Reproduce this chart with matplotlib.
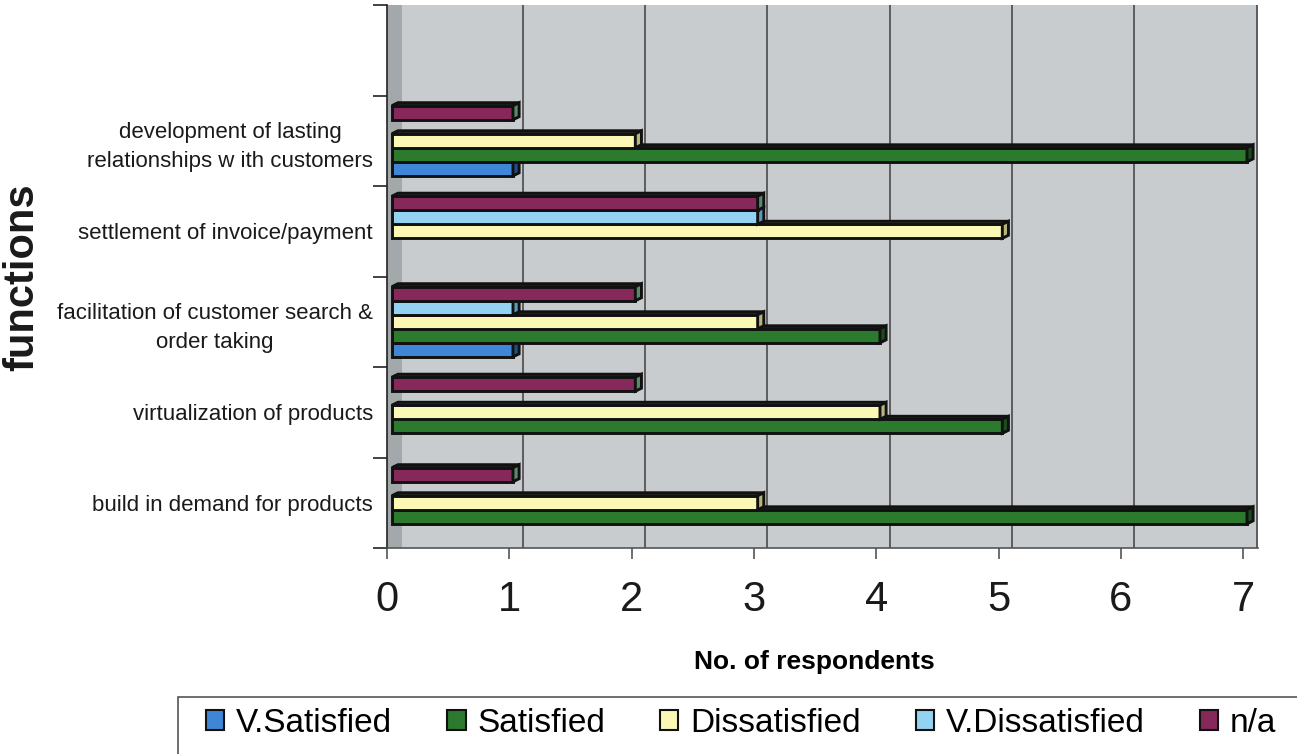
import matplotlib
matplotlib.use('Agg')
import matplotlib.pyplot as plt
from matplotlib.patches import Polygon, Rectangle

plt.rcParams['font.family'] = ['Liberation Sans', 'DejaVu Sans']

# ------------------------------------------------------------
# DATA (bottom category first)
# ------------------------------------------------------------
categories = [
    "build in demand for products",
    "virtualization of products",
    "facilitation of customer search &\norder taking",
    "settlement of invoice/payment",
    "development of lasting\nrelationships w ith customers",
    "",
]
series_names = ["V.Satisfied", "Satisfied", "Dissatisfied", "V.Dissatisfied", "n/a"]
v_satisfied = [0, 0, 1, 0, 1, 0]
satisfied = [7, 5, 4, 0, 7, 0]
dissatisfied = [3, 4, 3, 5, 2, 0]
v_dissatisfied = [0, 0, 1, 3, 0, 0]
not_applicable = [1, 2, 2, 3, 1, 0]
x_ticks = [0, 1, 2, 3, 4, 5, 6, 7]

values = [v_satisfied, satisfied, dissatisfied, v_dissatisfied, not_applicable]
face_colors = ['#3f86d6', '#2b7a2e', '#fbf7b4', '#93d2f0', '#86285a']
side_colors = ['#1f4f8a', '#1a4d1c', '#b9b57a', '#5a9ab8', '#5a8a6a']
top_colors = ['#7fb0e6', '#5fa060', '#fdfbd8', '#c4e8f8', '#9fc39a']

# ------------------------------------------------------------
# PLOT
# ------------------------------------------------------------
fig = plt.figure(figsize=(12.97, 7.54), dpi=100)
ax = fig.add_axes([387 / 1297, 1 - 548 / 754, (1258 - 387) / 1297, (548 - 5) / 754])

XMAX = 7.12
WALL = 0.12
ax.set_xlim(0, XMAX)
ax.set_ylim(0, len(categories))

# back wall + side wall (3D look)
ax.add_patch(Rectangle((WALL, 0), XMAX - WALL, len(categories),
                       facecolor='#c8cccf', edgecolor='none', zorder=0))
ax.add_patch(Rectangle((0, 0), WALL, len(categories),
                       facecolor='#a3a8ab', edgecolor='none', zorder=0))
for g in range(1, 8):
    ax.plot([g + WALL - 0.01, g + WALL - 0.01], [0, len(categories)],
            color='#4a4a4a', lw=1.2, zorder=1)

bar_h = 0.155
x0 = 0.04
dx, dy = 0.05, 0.033

for i in range(len(categories)):
    for j, vals in enumerate(values):
        v = vals[i]
        if v == 0:
            continue
        yb = i + 0.5 + (j - 2) * bar_h - bar_h / 2
        yt = yb + bar_h
        xe = v + 0.03
        # front face
        ax.add_patch(Polygon([(x0, yb), (xe, yb), (xe, yt), (x0, yt)], closed=True,
                             facecolor=face_colors[j], edgecolor='#111111', lw=2.1, zorder=3 + j))
        # top face
        ax.add_patch(Polygon([(x0, yt), (x0 + dx, yt + dy), (xe + dx, yt + dy), (xe, yt)], closed=True,
                             facecolor=top_colors[j], edgecolor='#111111', lw=2.1, zorder=3 + j))
        # right face
        ax.add_patch(Polygon([(xe, yb), (xe + dx, yb + dy), (xe + dx, yt + dy), (xe, yt)], closed=True,
                             facecolor=side_colors[j], edgecolor='#111111', lw=2.1, zorder=3 + j))

# axes styling
for s in ['top', 'right']:
    ax.spines[s].set_visible(False)
ax.spines['left'].set_color('#222222')
ax.spines['bottom'].set_color('#555555')
ax.spines['left'].set_linewidth(1.2)
ax.spines['bottom'].set_linewidth(1.2)

ax.set_xticks(x_ticks)
ax.set_xticklabels([str(t) for t in x_ticks], fontsize=30, color='#1a1a1a')
ax.tick_params(axis='x', length=8, width=1.2, color='#555555', pad=15)

ax.set_yticks(range(len(categories) + 1))
ax.set_yticklabels([])
ax.set_yticks([i + 0.5 for i in range(len(categories))], minor=True)
ax.set_yticklabels(categories, minor=True, fontsize=16, color='#1a1a1a',
                   multialignment='center', linespacing=1.5)
ax.tick_params(axis='y', which='major', length=10, width=1.2, color='#222222')
ax.tick_params(axis='y', which='minor', length=0, pad=10)

ax.set_xlabel('No. of respondents', fontsize=19, fontweight='bold', labelpad=22)
ax.xaxis.label.set_x((814 - 387) / (1258 - 387))
fig.text(22 / 1297, 1 - 277 / 754, 'functions', rotation=90, fontsize=30,
         fontweight='bold', ha='center', va='center', color='#1a1a1a')

# legend with custom frame
fig.patches.append(Rectangle((178 / 1297, -0.01), 1.2, 0.01 + (754 - 697) / 754,
                             transform=fig.transFigure, facecolor='white',
                             edgecolor='#555555', lw=1.2, zorder=0))
handles = [Rectangle((0, 0), 1, 1, facecolor=c, edgecolor='#111111', lw=1.5) for c in face_colors]
fig.legend(handles, series_names, loc='center', ncol=5, frameon=False,
           bbox_to_anchor=(741 / 1297, 1 - 723 / 754),
           fontsize=24, handlelength=0.55, handleheight=0.55, handletextpad=0.35,
           columnspacing=1.65)

fig.savefig('out.png', dpi=100)
